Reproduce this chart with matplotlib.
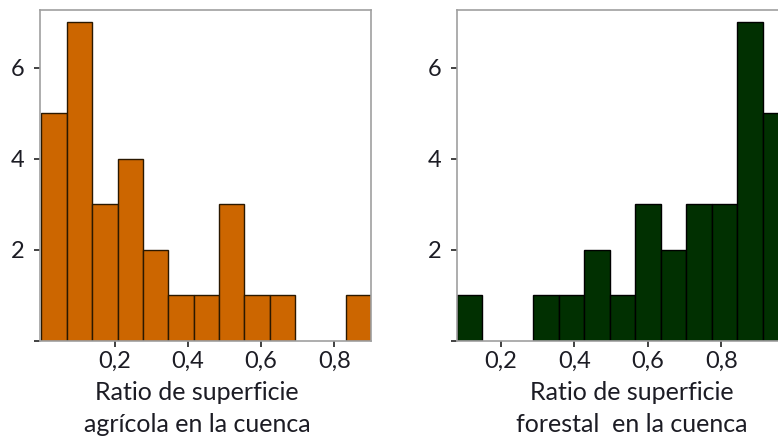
import numpy as np
import matplotlib
matplotlib.use("Agg")
import matplotlib.pyplot as plt

# Frecuencias de cada histograma (13 clases) y rango de las clases
agri_counts = [5, 7, 3, 4, 2, 1, 1, 3, 1, 1, 0, 0, 1]
agri_range = (0.0, 0.90)
forest_counts = [1, 0, 0, 1, 1, 2, 1, 3, 2, 3, 3, 7, 5]
forest_range = (0.081, 0.982)

x_ticks = [0.2, 0.4, 0.6, 0.8]
x_ticklabels = ["0,2", "0,4", "0,6", "0,8"]
y_ticks = [0, 2, 4, 6]
y_ticklabels = ["", "2", "4", "6"]

plt.rcParams["font.family"] = ["Lato", "DejaVu Sans"]

W, H = 778, 445
fig = plt.figure(figsize=(W / 100, H / 100), dpi=100)


def px_axes(x0, y0, x1, y1):
    return fig.add_axes([x0 / W, 1 - y1 / H, (x1 - x0) / W, (y1 - y0) / H])


def histo(ax, counts, rng, face, edge):
    counts = np.asarray(counts)
    edges = np.linspace(rng[0], rng[1], len(counts) + 1)
    keep = counts > 0
    ax.bar(edges[:-1][keep], counts[keep], width=np.diff(edges)[keep],
           align="edge", color=face, edgecolor=edge, linewidth=1.0, zorder=2)
    ax.set_xlim(rng[0] - 0.004 if rng[0] == 0 else rng[0], rng[1])
    ax.set_ylim(0, 7.27)
    ax.set_xticks(x_ticks)
    ax.set_xticklabels(x_ticklabels)
    ax.set_yticks(y_ticks)
    ax.set_yticklabels(y_ticklabels)
    for s in ax.spines.values():
        s.set_color("#a0a0a0")
        s.set_linewidth(1.2)
    ax.tick_params(direction="out", length=4, width=1.3, color="#333333",
                   labelsize=17, labelcolor="#1c1c24", pad=3)
    ax.tick_params(axis="y", pad=7)


ax1 = px_axes(40, 10, 371, 341)
histo(ax1, agri_counts, agri_range, "#cc6600", "#2a1800")

ax2 = px_axes(457, 10, 788, 341)
histo(ax2, forest_counts, forest_range, "#013001", "#000000")

lab = dict(ha="center", va="center", fontsize=18, color="#1c1c24")
fig.text(197 / W, 1 - 393 / H, "Ratio de superficie", **lab)
fig.text(197 / W, 1 - 425 / H, "agrícola en la cuenca", **lab)
fig.text(632 / W, 1 - 393 / H, "Ratio de superficie", **lab)
fig.text(632 / W, 1 - 425 / H, "forestal  en la cuenca", **lab)

fig.savefig("out.png", dpi=100)
